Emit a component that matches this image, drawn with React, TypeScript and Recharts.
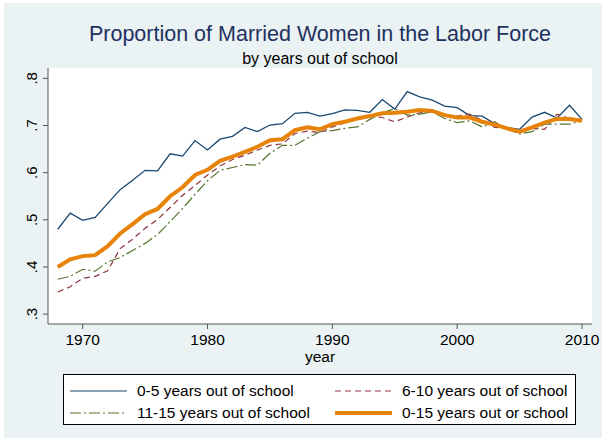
import { LineChart, Line, XAxis, YAxis, CartesianGrid } from 'recharts'

const years = [
  1968, 1969, 1970, 1971, 1972, 1973, 1974, 1975, 1976, 1977, 1978, 1979, 1980, 1981, 1982,
  1983, 1984, 1985, 1986, 1987, 1988, 1989, 1990, 1991, 1992, 1993, 1994, 1995, 1996, 1997,
  1998, 1999, 2000, 2001, 2002, 2003, 2004, 2005, 2006, 2007, 2008, 2009, 2010,
]

const yos0to5 = [
  0.48, 0.514, 0.499, 0.505, 0.535, 0.564, 0.584, 0.605, 0.604, 0.64, 0.635, 0.668, 0.648, 0.671, 0.677,
  0.696, 0.687, 0.701, 0.704, 0.726, 0.728, 0.72, 0.725, 0.733, 0.732, 0.728, 0.755, 0.735, 0.772, 0.761,
  0.754, 0.741, 0.738, 0.721, 0.72, 0.704, 0.696, 0.692, 0.718, 0.728, 0.716, 0.743, 0.713,
]

const yos6to10 = [
  0.347, 0.358, 0.376, 0.38, 0.392, 0.439, 0.459, 0.482, 0.501, 0.526, 0.552, 0.573, 0.595, 0.614, 0.628,
  0.637, 0.648, 0.658, 0.661, 0.683, 0.688, 0.685, 0.697, 0.706, 0.713, 0.72, 0.717, 0.708, 0.718, 0.727,
  0.73, 0.722, 0.72, 0.724, 0.711, 0.696, 0.694, 0.689, 0.694, 0.692, 0.724, 0.715, 0.71,
]

const yos11to15 = [
  0.374, 0.38, 0.395, 0.391, 0.411, 0.42, 0.435, 0.45, 0.469, 0.496, 0.524, 0.554, 0.583, 0.605, 0.611,
  0.617, 0.616, 0.641, 0.658, 0.658, 0.673, 0.687, 0.689, 0.694, 0.697, 0.713, 0.727, 0.736, 0.722, 0.724,
  0.729, 0.715, 0.706, 0.71, 0.697, 0.708, 0.692, 0.682, 0.687, 0.703, 0.703, 0.703, 0.71,
]

const yos0to15 = [
  0.4, 0.416, 0.423, 0.425, 0.444, 0.471, 0.491, 0.512, 0.523, 0.55, 0.569, 0.595, 0.606, 0.625, 0.634,
  0.644, 0.655, 0.669, 0.671, 0.69, 0.696, 0.692, 0.703, 0.708, 0.715, 0.72, 0.726, 0.727, 0.729, 0.733,
  0.731, 0.722, 0.717, 0.717, 0.708, 0.702, 0.694, 0.687, 0.696, 0.706, 0.714, 0.714, 0.71,
]

const yTicks = [0.3, 0.4, 0.5, 0.6, 0.7, 0.8]
const xTicks = [1970, 1980, 1990, 2000, 2010]

const series = [
  { key: 'a', name: '0-5 years out of school', color: '#1a476f', width: 1.3, dash: undefined },
  { key: 'b', name: '6-10 years out of school', color: '#90353b', width: 1.2, dash: '6 4' },
  { key: 'c', name: '11-15 years out of school', color: '#55752f', width: 1.2, dash: '11 3 2 3' },
  { key: 'd', name: '0-15 years out or school', color: '#e8830a', width: 4, dash: undefined },
]

const data = years.map((year, i) => ({
  year,
  a: yos0to5[i],
  b: yos6to10[i],
  c: yos11to15[i],
  d: yos0to15[i],
}))

const FONT = '"Liberation Sans", Arial, sans-serif'

function YTick(props: any) {
  const { x, y, payload } = props
  const label = payload.value.toFixed(1).replace(/^0/, '')
  return (
    <text
      transform={`translate(${x - 4},${y}) rotate(-90)`}
      textAnchor="middle"
      fontSize={15}
      fontFamily={FONT}
      fill="#000"
    >
      {label}
    </text>
  )
}

function LegendItem({ s, x, y }: { s: (typeof series)[number]; x: number; y: number }) {
  return (
    <div style={{ position: 'absolute', left: x, top: y, height: 18, display: 'flex', alignItems: 'center' }}>
      <svg width={60} height={18} style={{ marginRight: 8 }}>
        <line
          x1={1}
          y1={9}
          x2={58}
          y2={9}
          stroke={s.color}
          strokeWidth={s.key === 'd' ? 4 : 1.2}
          strokeDasharray={s.dash}
        />
      </svg>
      <span style={{ fontSize: 15.5, fontFamily: FONT, color: '#000', whiteSpace: 'nowrap' }}>{s.name}</span>
    </div>
  )
}

const centered = (top: number, size: number, color: string) => ({
  position: 'absolute' as const,
  left: 0,
  width: 603,
  top,
  textAlign: 'center' as const,
  fontFamily: FONT,
  fontSize: size,
  color,
  paddingLeft: 37,
  boxSizing: 'border-box' as const,
  lineHeight: 1.15,
})

export default function App() {
  return (
    <div style={{ position: 'absolute', left: 0, top: 0, width: 603, height: 441, background: '#fff' }}>
      <div
        style={{ position: 'absolute', left: 4, top: 3, width: 598, height: 435, background: '#eaf2f3' }}
      />
      <div style={centered(22, 21.5, '#1e3160')}>Proportion of Married Women in the Labor Force</div>
      <div style={centered(50, 16, '#000')}>by years out of school</div>
      <div style={{ position: 'absolute', left: 0, top: 0 }}>
        <LineChart width={603} height={441} data={data} margin={{ top: 68, right: 11, bottom: 77, left: 0 }}>
          <rect x={48} y={68} width={544} height={256} fill="#fff" />
          <CartesianGrid vertical={false} stroke="#eaf2f3" strokeWidth={1.5} horizontalValues={yTicks} />
          <XAxis
            dataKey="year"
            type="number"
            domain={[1967.22, 2010.8]}
            ticks={xTicks}
            allowDataOverflow
            height={40}
            tickSize={5}
            tickMargin={5}
            stroke="#555"
            tick={{ fill: '#000', fontSize: 15.5, fontFamily: FONT }}
          />
          <YAxis
            type="number"
            domain={[0.279, 0.822]}
            ticks={yTicks}
            allowDataOverflow
            width={48}
            tickSize={5}
            tickMargin={2}
            stroke="#555"
            tick={<YTick />}
          />
          {series.map((s) => (
            <Line
              key={s.key}
              dataKey={s.key}
              name={s.name}
              stroke={s.color}
              strokeWidth={s.width}
              strokeDasharray={s.dash}
              dot={false}
              type="linear"
              isAnimationActive={false}
            />
          ))}
        </LineChart>
      </div>
      <div style={centered(348, 15.5, '#000')}>year</div>
      <div
        style={{
          position: 'absolute',
          left: 63,
          top: 374,
          width: 511,
          height: 49,
          border: '1px solid #000',
          background: '#fff',
        }}
      >
        <LegendItem s={series[0]} x={5} y={7} />
        <LegendItem s={series[1]} x={270} y={7} />
        <LegendItem s={series[2]} x={5} y={29} />
        <LegendItem s={series[3]} x={270} y={29} />
      </div>
    </div>
  )
}
